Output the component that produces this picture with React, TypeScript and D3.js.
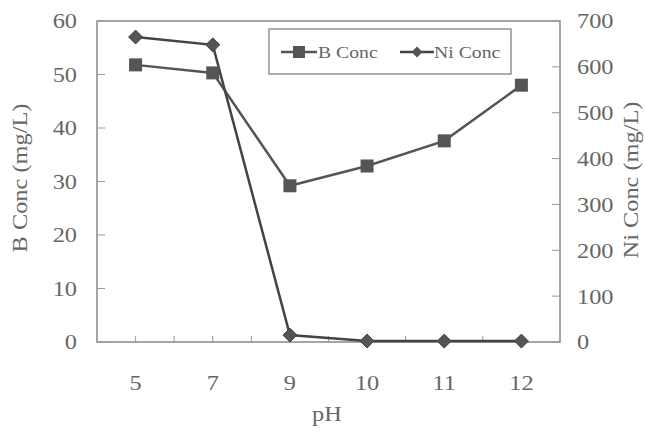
import React from 'react';
import * as d3 from 'd3';

const categories = ['5', '7', '9', '10', '11', '12'];
const bConc = [51.8, 50.3, 29.2, 32.9, 37.6, 48.0];
const niConc = [665, 648, 15, 2, 2, 2];
const leftTicks = [0, 10, 20, 30, 40, 50, 60];
const rightTicks = [0, 100, 200, 300, 400, 500, 600, 700];

const W = 645;
const H = 432;
const m = { left: 97, right: 85, top: 21, bottom: 90 };
const FONT = '"Liberation Serif", "DejaVu Serif", serif';
const TXT = '#666';
const SX = 1.16; // the scanned type is a bit wider than Liberation Serif

// text stretched along its own direction
function T({ x, y, rot = 0, anchor = 'middle', size = 21, children }: any) {
  return (
    <text transform={`translate(${x},${y}) rotate(${rot}) scale(${SX},1)`} dy="0.35em"
      textAnchor={anchor} fontSize={size} fill={TXT}>{children}</text>
  );
}

export default function App() {
  const x = d3.scaleBand<string>()
    .domain(categories)
    .range([m.left, W - m.right]);
  const yL = d3.scaleLinear().domain([0, 60]).range([H - m.bottom, m.top]);
  const yR = d3.scaleLinear().domain([0, 700]).range([H - m.bottom, m.top]);

  const cx = (c: string) => (x(c) as number) + x.bandwidth() / 2;
  const bLine = d3.line<number>().x((_, i) => cx(categories[i])).y(d => yL(d));
  const nLine = d3.line<number>().x((_, i) => cx(categories[i])).y(d => yR(d));

  const x0 = m.left, x1 = W - m.right, yb = H - m.bottom, yt = m.top;
  // minor ticks every half band
  const halfTicks = d3.range(1, categories.length * 2).map(k => x0 + (k * x.bandwidth()) / 2);

  const diamond = (px: number, py: number, r = 7) =>
    `M${px},${py - r}L${px + r},${py}L${px},${py + r}L${px - r},${py}Z`;

  return (
    <svg width={W} height={H} style={{ position: 'absolute', left: 0, top: 0, background: '#fff' }}
      fontFamily={FONT}>
      <rect x={x0} y={yt} width={x1 - x0} height={yb - yt} fill="none" stroke="#888" strokeWidth={1.5} />
      {halfTicks.map((t, i) => (
        <line key={i} x1={t} x2={t} y1={yb} y2={yb - 6} stroke="#999" strokeWidth={1} />
      ))}
      {leftTicks.map(t => (
        <g key={'l' + t}>
          <line x1={x0} x2={x0 + 8} y1={yL(t)} y2={yL(t)} stroke="#999" />
          <T x={77} y={yL(t)} anchor="end">{t}</T>
        </g>
      ))}
      {rightTicks.map(t => (
        <g key={'r' + t}>
          <line x1={x1} x2={x1 - 8} y1={yR(t)} y2={yR(t)} stroke="#999" />
          <T x={577} y={yR(t)} anchor="start">{t}</T>
        </g>
      ))}
      {categories.map(c => (
        <T key={c} x={cx(c)} y={383}>{c}</T>
      ))}
      <T x={327} y={414}>pH</T>
      <T x={20} y={178} rot={-90}>B Conc (mg/L)</T>
      <T x={631} y={180} rot={-90}>Ni Conc (mg/L)</T>

      <path d={bLine(bConc) as string} fill="none" stroke="#555" strokeWidth={2.5} />
      <path d={nLine(niConc) as string} fill="none" stroke="#444" strokeWidth={2.5} />
      {bConc.map((v, i) => (
        <rect key={'b' + i} x={cx(categories[i]) - 6.5} y={yL(v) - 6.5} width={13} height={13} fill="#555" />
      ))}
      {niConc.map((v, i) => (
        <path key={'n' + i} d={diamond(cx(categories[i]), yR(v))} fill="#555" stroke="#444" strokeWidth={1} />
      ))}

      <rect x={269} y={29} width={242} height={45} fill="#fff" stroke="#777" strokeWidth={1.2} />
      <line x1={281} x2={317} y1={52} y2={52} stroke="#555" strokeWidth={2.5} />
      <rect x={293} y={46} width={12} height={12} fill="#555" />
      <T x={318} y={52} anchor="start" size={17}>B Conc</T>
      <line x1={400} x2={434} y1={52} y2={52} stroke="#444" strokeWidth={2.5} />
      <path d={diamond(417, 52, 5.5)} fill="#555" />
      <T x={434} y={52} anchor="start" size={17}>Ni Conc</T>
    </svg>
  );
}
